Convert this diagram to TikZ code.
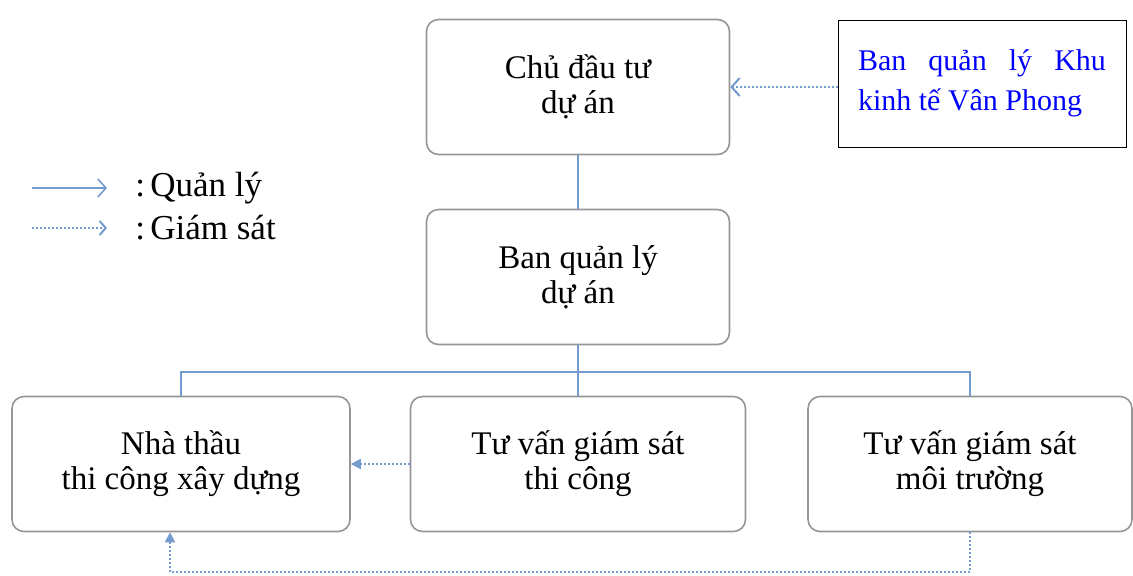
\documentclass[tikz,border=0pt]{standalone}
\usepackage{fontspec}
\setmainfont{Liberation Serif}
\usetikzlibrary{positioning, arrows.meta}
\definecolor{linkblue}{RGB}{115,155,205}
\definecolor{boxgray}{RGB}{150,150,150}
\definecolor{kktblue}{RGB}{0,0,255}

\begin{document}
\begin{tikzpicture}[x=0.5pt, y=-0.5pt,
    unitbox/.style={draw=boxgray, thick, rounded corners=6pt, fill=white, align=center,
        minimum height=67.5pt, font=\fontsize{16.5}{17.5}\selectfont},
    mgmt/.style={draw=linkblue, line width=0.8pt},
    super/.style={draw=linkblue, line width=1pt, densely dotted},
    legendtext/.style={anchor=west, inner sep=0pt, font=\fontsize{17.5}{20}\selectfont}
]
    \useasboundingbox (0,0) rectangle (1133,575);

    % top: owner and the economic zone authority
    \node[unitbox, minimum width=151.5pt] (cdt) at (578,87) {Chủ đầu tư\\dự án};
    \node[draw, thin, fill=white, text=kktblue, text width=124pt, align=justify,
        inner xsep=10pt, minimum height=63.5pt, font=\fontsize{15}{20}\selectfont]
        (kkt) at (982,83.5) {Ban quản lý Khu kinh tế Vân Phong};

    % project management board
    \node[unitbox, minimum width=151.5pt] (bql) at (578,277) {Ban quản lý\\dự án};

    % bottom row
    \node[unitbox, minimum width=169pt] (nha) at (181,464) {Nhà thầu\\thi công xây dựng};
    \node[unitbox, minimum width=167.5pt] (tvtc) at (578,464) {Tư vấn giám sát\\thi công};
    \node[unitbox, minimum width=162pt] (tvmt) at (970,464) {Tư vấn giám sát\\môi trường};

    % management lines
    \coordinate (bus) at (578,372);
    \draw[mgmt] (cdt.south) -- (bql.north);
    \draw[mgmt] (bql.south) -- (bus);
    \draw[mgmt] (bus) -| (nha.north);
    \draw[mgmt] (bus) -| (tvmt.north);
    \draw[mgmt] (bus) -- (tvtc.north);

    % supervision lines
    \draw[super, -{Straight Barb[length=4pt, width=9pt]}] (kkt.west |- cdt.east) -- (cdt.east);
    \draw[super, -{Triangle[length=5pt, width=5pt]}] (tvtc.west) -- (nha.east);
    \draw[super, -{Triangle[length=5pt, width=5pt]}] (tvmt.south) -- ++(0,40)
        -| ([xshift=-5.5pt]nha.south);

    % legend
    \coordinate (legq) at (32,188);
    \coordinate (legg) at (32,228);
    \node[legendtext] (legqt) at (135,188) {:\hspace{0.15em}Quản lý};
    \node[legendtext] (leggt) at (135,228) {:\hspace{0.15em}Giám sát};
    \draw[mgmt, -{Straight Barb[length=4pt, width=9pt]}] (legq) -- ([xshift=-14pt]legqt.west);
    \draw[super, -{Straight Barb[length=3pt, width=7pt]}] (legg) -- ([xshift=-14pt]leggt.west);
\end{tikzpicture}
\end{document}
